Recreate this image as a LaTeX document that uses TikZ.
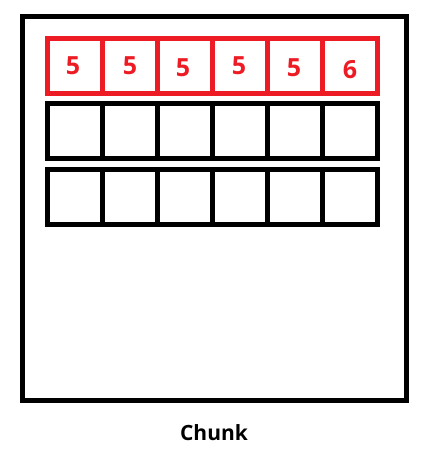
\documentclass[tikz,border=0pt]{standalone}
\usepackage{fontspec}
\setmainfont{Open Sans}
\definecolor{cellred}{HTML}{ED1C24}
\begin{document}
\begin{tikzpicture}[x=1pt,y=-1pt,
  cellbox/.style={draw, line width=5pt, minimum width=54.9pt, minimum height=55pt, inner sep=0pt, outer sep=0pt},
  redcell/.style={cellbox, draw=cellred},
  blackcell/.style={cellbox, draw=black},
  digit/.style={text=cellred, font=\fontsize{25}{25}\selectfont\bfseries, inner sep=0pt},
  caption/.style={font=\fontsize{21}{21}\selectfont\bfseries, inner sep=0pt}]
\useasboundingbox (0,0) rectangle (425,463);
\draw[line width=5pt] (22.5,16.5) rectangle (406.5,400);
\foreach \i in {0,...,5}{
  \node[redcell] (r\i) at ({47.5+54.92*(\i+0.5)},65.75) {};
  \node[blackcell] (a\i) at ({47.5+54.92*(\i+0.5)},130.5) {};
  \node[blackcell] (b\i) at ({47.5+54.92*(\i+0.5)},196.5) {};
}
\node[digit] (d0) at (73,65.5) {5};
\node[digit] (d1) at (130,65.5) {5};
\node[digit] (d2) at (183,68) {5};
\node[digit] (d3) at (239,65.5) {5};
\node[digit] (d4) at (294,67.5) {5};
\node[digit] (d5) at (350,70) {6};
\node[caption] (cap) at (214,433) {Chunk};
\end{tikzpicture}
\end{document}
